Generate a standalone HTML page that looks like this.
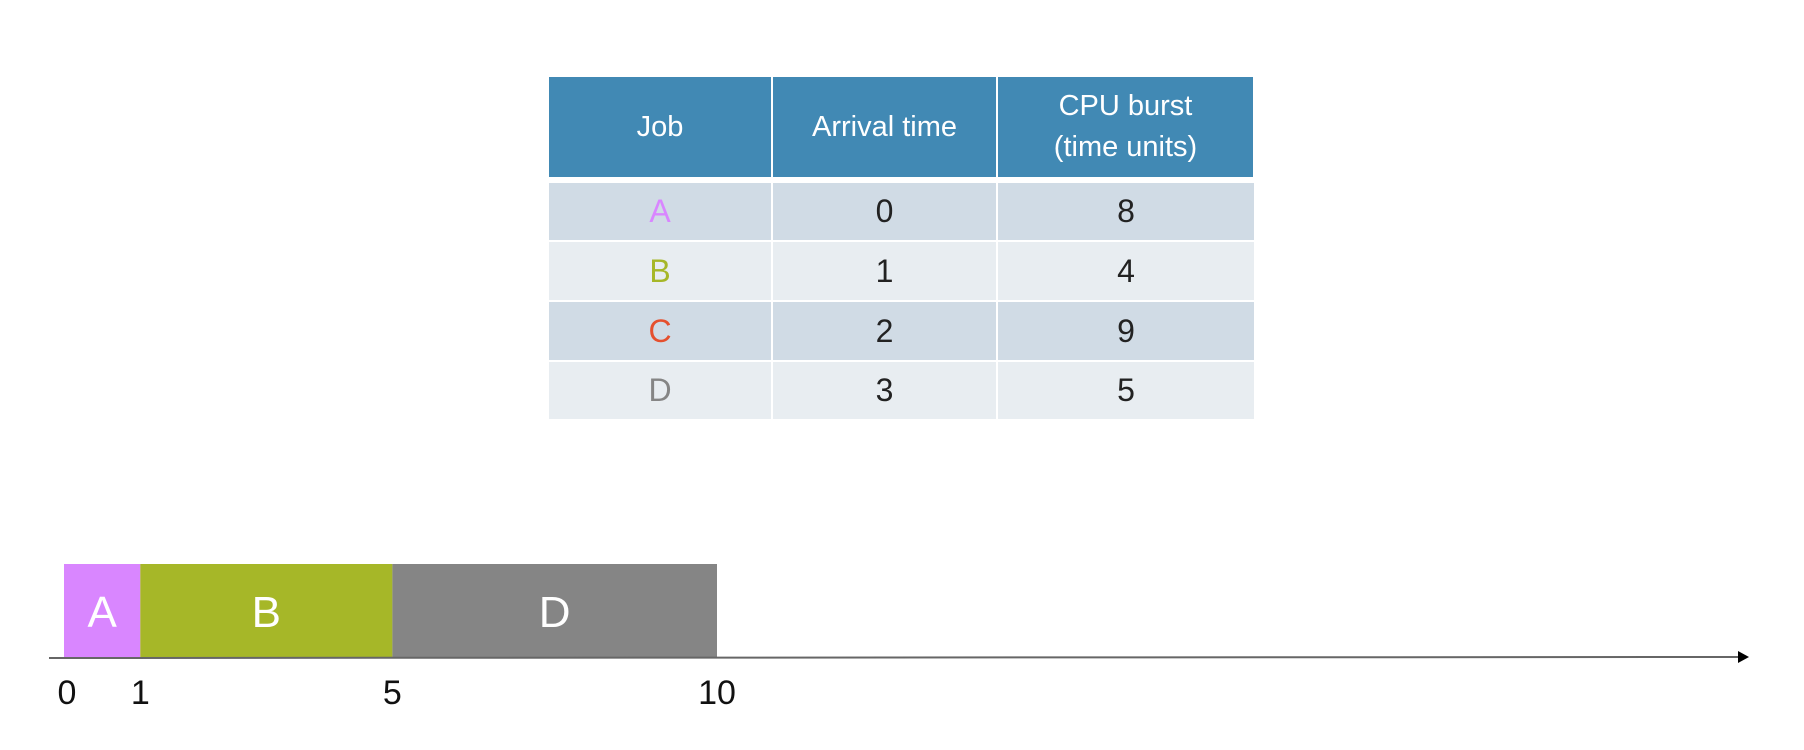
<!DOCTYPE html>
<html><head><meta charset="utf-8"><style>
body{margin:0;width:1804px;height:750px;background:#fff;overflow:hidden;position:relative;font-family:"Liberation Sans",sans-serif;}
.c{position:absolute;display:flex;align-items:center;justify-content:center;text-align:center;box-sizing:border-box;}
.h{background:#4189b4;color:#fff;font-size:29px;line-height:41px;}
.r1{background:#d0dbe5;color:#222;font-size:32px;}
.r2{background:#e8edf1;color:#222;font-size:32px;}
</style></head><body>
<div id="tbl"></div>
<svg id="g" width="1804" height="750" style="position:absolute;left:0;top:0"></svg>
<script>
const headers=["Job","Arrival time","CPU burst<br>(time units)"];
const jobs=["A","B","C","D"];
const arrivals=[0,1,2,3];
const bursts=[8,4,9,5];
const jobColors={A:"#d986ff",B:"#a6b728",C:"#e5502e",D:"#858585"};
const colX=[549,772,997,1254];
const rowY=[77,177,183,240,242,300,302,360,362,419];
const tbl=document.getElementById('tbl');
function cell(x1,x2,y1,y2,cls,html,name,color){
  const d=document.createElement('div');
  d.className='c '+cls;
  d.style.left=x1+'px';d.style.top=y1+'px';d.style.width=(x2-x1)+'px';d.style.height=(y2-y1)+'px';
  d.innerHTML=html; if(color)d.style.color=color;
  
  
  tbl.appendChild(d);
}
headers.forEach((h,i)=>cell(colX[i]+(i?1:0),colX[i+1]-1,rowY[0],rowY[1],'h',h,'header-cell'));
jobs.forEach((j,r)=>{
  const y1=rowY[2+r*2],y2=rowY[3+r*2],cls=r%2?'r2':'r1';
  cell(colX[0],colX[1]-1,y1,y2,cls,j,'job-cell',jobColors[j]);
  cell(colX[1]+1,colX[2]-1,y1,y2,cls,arrivals[r],'arrival-cell');
  cell(colX[2]+1,colX[3],y1,y2,cls,bursts[r],'burst-cell');
});
// Gantt
const segJobs=["A","B","D"];
const segStart=[0,1,5];
const segEnd=[1,5,10];
const ticks=[0,1,5,10];
const ns="http://www.w3.org/2000/svg";
const svg=document.getElementById('g');
function x(t){return 64+65.3*t+(t>0&&t<10?11*Math.pow((10-t)/9,3):0);}
const barTop=564,barBot=658;
function el(tag,attrs,txt){const e=document.createElementNS(ns,tag);for(const k in attrs)e.setAttribute(k,attrs[k]);if(txt!==undefined)e.textContent=txt;svg.appendChild(e);return e;}
segJobs.forEach((j,i)=>{
  const r=el('rect',{x:x(segStart[i]),y:barTop,width:x(segEnd[i])-x(segStart[i]),height:barBot-barTop,fill:jobColors[j]});
  
  
  const t=el('text',{x:(x(segStart[i])+x(segEnd[i]))/2,y:627,'text-anchor':'middle','font-size':44,fill:'#fff','font-family':'Liberation Sans, sans-serif'},j);
  
  
});
const ax=el('line',{x1:49,y1:658,x2:1740,y2:657,stroke:'#666','stroke-width':2});


const ah=el('polygon',{points:'1738,651 1749,657 1738,663',fill:'#000'});


ticks.forEach(t=>{
  const tx=el('text',{x:x(t)+(t===0?3:0),y:704,'text-anchor':'middle','font-size':34,fill:'#111','font-family':'Liberation Sans, sans-serif'},t);
  
  
});
</script>
</body></html>
